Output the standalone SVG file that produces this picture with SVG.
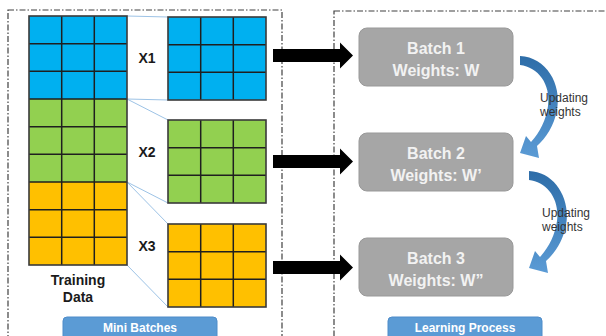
<svg xmlns="http://www.w3.org/2000/svg" width="606" height="336" viewBox="0 0 606 336">
<defs>
<style>
.frame{fill:none;stroke:#404040;stroke-width:1.2;stroke-dasharray:6 2 1.5 2}
.gl{stroke:#1f1f1f;stroke-width:1.5;fill:none}
.blue{fill:#00b0f0}
.green{fill:#92d050}
.orange{fill:#ffc000}
.outline{fill:none;stroke:#3a3a3a;stroke-width:1.6}
.conn{stroke:#9dc3e6;stroke-width:1;fill:none}
.xl{font-family:"Liberation Sans",Arial,sans-serif;font-weight:bold;font-size:14px;fill:#1a1a1a;text-anchor:middle}
.batch{fill:#a6a6a6;stroke:#999999;stroke-width:1}
.bt{font-family:"Liberation Sans",Arial,sans-serif;font-weight:bold;font-size:16px;fill:#f2f2f2;text-anchor:middle}
.upd{font-family:"Liberation Sans",Arial,sans-serif;font-size:12px;fill:#333333}
.btn{fill:#5b9bd5;stroke:#4f8cc9;stroke-width:1}
.btnt{font-family:"Liberation Sans",Arial,sans-serif;font-weight:bold;font-size:12px;fill:#ffffff;text-anchor:middle}
.big{fill:#000000}
</style>
<linearGradient id="cg" x1="0" y1="0" x2="0" y2="1">
<stop offset="0" stop-color="#2e6da8"/>
<stop offset="1" stop-color="#5b9bd5"/>
</linearGradient>
<path id="curv" d="M520 56 C546 57 562 84 557 110 C554 126 546 138 537 146 L539 158 L520 153 L526 136 L531 142 C540 132 546 120 548 106 C551 84 538 67 520 65 Z"/>
</defs>
<rect width="606" height="336" fill="#ffffff"/>

<g id="frames">
<rect class="frame" x="8" y="10" width="274" height="340"/>
<rect class="frame" x="334" y="11" width="300" height="340"/>
</g>

<g id="connectors">
<line class="conn" x1="127" y1="16" x2="168" y2="17"/>
<line class="conn" x1="127" y1="99" x2="168" y2="100"/>
<line class="conn" x1="127" y1="99" x2="168" y2="120"/>
<line class="conn" x1="127" y1="182" x2="168" y2="203"/>
<line class="conn" x1="127" y1="182" x2="168" y2="224"/>
<line class="conn" x1="127" y1="265" x2="168" y2="307"/>
<polygon class="big" points="273,49 340,49 340,42.5 353,55.5 340,68.5 340,62 273,62"/>
<polygon class="big" points="273,155 340,155 340,148.5 353,161.5 340,174.5 340,168 273,168"/>
<polygon class="big" points="273,261 340,261 340,254.5 353,267.5 340,280.5 340,274 273,274"/>
<use href="#curv" fill="url(#cg)"/>
<use href="#curv" fill="url(#cg)" transform="translate(9,115)"/>
</g>

<g id="training-data">
<rect class="blue" x="29" y="16" width="98" height="83"/>
<rect class="green" x="29" y="99" width="98" height="83"/>
<rect class="orange" x="29" y="182" width="98" height="83"/>
<path class="gl" d="M61.7 16V265M94.3 16V265M29 43.7H127M29 71.3H127M29 99H127M29 126.7H127M29 154.3H127M29 182H127M29 209.7H127M29 237.3H127"/>
<rect class="outline" x="29" y="16" width="98" height="249"/>
<text class="xl" x="78" y="285">Training</text>
<text class="xl" x="78" y="302">Data</text>
</g>

<g id="x1">
<rect class="blue" x="168" y="17" width="98" height="83"/>
<path class="gl" d="M200.7 17V100M233.3 17V100M168 44.7H266M168 72.3H266"/>
<rect class="outline" x="168" y="17" width="98" height="83"/>
<text class="xl" x="147" y="63">X1</text>
</g>

<g id="x2">
<rect class="green" x="168" y="120" width="98" height="83"/>
<path class="gl" d="M200.7 120V203M233.3 120V203M168 147.7H266M168 175.3H266"/>
<rect class="outline" x="168" y="120" width="98" height="83"/>
<text class="xl" x="147" y="157">X2</text>
</g>

<g id="x3">
<rect class="orange" x="168" y="224" width="98" height="83"/>
<path class="gl" d="M200.7 224V307M233.3 224V307M168 251.7H266M168 279.3H266"/>
<rect class="outline" x="168" y="224" width="98" height="83"/>
<text class="xl" x="147" y="251">X3</text>
</g>

<g id="batch1">
<rect class="batch" x="359" y="28" width="154" height="58" rx="8"/>
<text class="bt" x="436" y="54">Batch 1</text>
<text class="bt" x="436" y="76">Weights: W</text>
</g>

<g id="batch2">
<rect class="batch" x="359" y="133" width="154" height="58" rx="8"/>
<text class="bt" x="436" y="159">Batch 2</text>
<text class="bt" x="436" y="181">Weights: W’</text>
</g>

<g id="batch3">
<rect class="batch" x="359" y="238" width="154" height="58" rx="8"/>
<text class="bt" x="436" y="264">Batch 3</text>
<text class="bt" x="436" y="286">Weights: W”</text>
</g>

<g id="update-labels">
<text class="upd" x="540" y="102">Updating</text>
<text class="upd" x="540" y="116">weights</text>
<text class="upd" x="542" y="217">Updating</text>
<text class="upd" x="542" y="231">weights</text>
</g>

<g id="mini-batches">
<rect class="btn" x="63" y="317" width="154" height="30" rx="4"/>
<text class="btnt" x="140" y="332">Mini Batches</text>
</g>

<g id="learning-process">
<rect class="btn" x="388" y="317" width="154" height="30" rx="4"/>
<text class="btnt" x="465" y="332">Learning Process</text>
</g>
</svg>
